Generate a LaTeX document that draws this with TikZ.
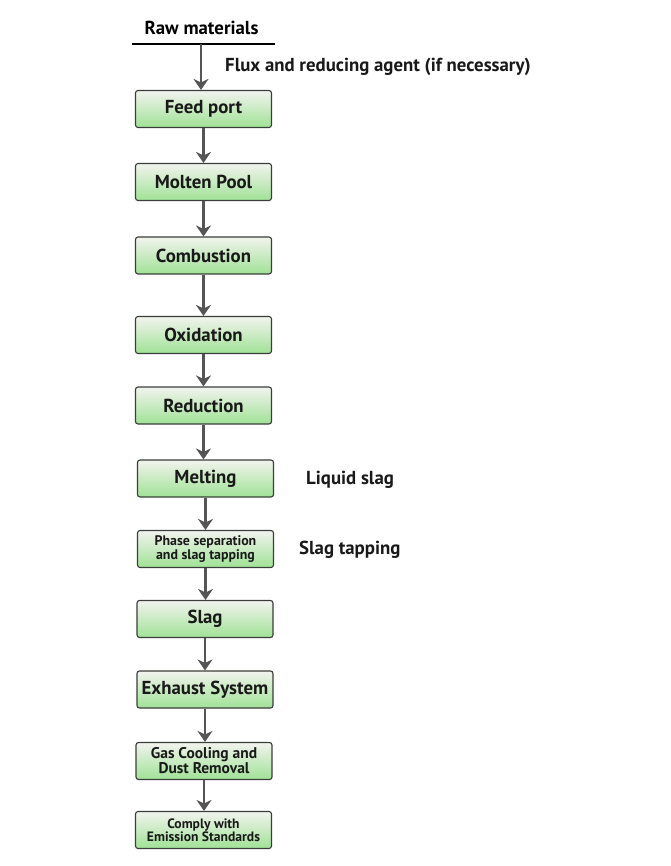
\documentclass[tikz,border=0pt]{standalone}
\usepackage{fontspec}
\setmainfont{PT Sans}
\usetikzlibrary{arrows.meta}
\definecolor{boxtop}{RGB}{242,243,238}
\definecolor{boxbot}{RGB}{160,226,150}
\definecolor{boxline}{RGB}{58,62,58}
\definecolor{arrowc}{RGB}{85,85,85}
\tikzset{
  x=1pt,y=1pt,
  procbox/.style={draw=boxline, line width=1.1pt, rounded corners=2.5pt,
    top color=boxtop, bottom color=boxbot, minimum width=136pt,
    minimum height=37pt, inner sep=0pt, align=center,
    font=\bfseries\fontsize{18.8}{20}\selectfont, text=black!90},
  smalltext/.style={font=\bfseries\fontsize{13.9}{15}\selectfont},
  midtext/.style={font=\bfseries\fontsize{15.5}{16}\selectfont},
  comptext/.style={font=\bfseries\fontsize{13.6}{14.5}\selectfont},
  flowarrow/.style={draw=arrowc, line width=2.6pt,
    -{Stealth[length=11pt,width=15pt,inset=3.5pt]}},
  sidelabel/.style={anchor=west, inner sep=0pt,
    font=\bfseries\fontsize{18.8}{20}\selectfont, text=black!90}
}
\begin{document}
\begin{tikzpicture}
\useasboundingbox[fill=white] (0,0) rectangle (670,-866);
% raw materials
\node[inner sep=0pt, font=\bfseries\fontsize{18.8}{20}\selectfont] (raw) at (201.5,-28) {Raw materials};
\coordinate (rawl) at (132,-44.5);
\coordinate (rawr) at (275,-44.5);
\coordinate (rawm) at (201,-44.5);
\draw[line width=2pt, black] (rawl) -- (rawr);
\node[sidelabel] (flux) at (225,-67) {Flux and reducing agent (if necessary)};
% boxes
\node[procbox] (feed)   at (203.5,-109)  {Feed port};
\node[procbox] (molten) at (203.5,-182)  {Molten Pool};
\node[procbox] (comb)   at (203.5,-255.5){Combustion};
\node[procbox] (oxid)   at (203.5,-335)  {Oxidation};
\node[procbox] (reduc)  at (203.5,-405.5){Reduction};
\node[procbox] (melt)   at (205.5,-478.5){Melting};
\node[procbox, smalltext] (phase) at (205.5,-549) {Phase separation\\[-1pt]and slag tapping};
\node[procbox] (slag)   at (205,-619)    {Slag};
\node[procbox] (exh)    at (205,-689.5)  {Exhaust System};
\node[procbox, midtext] (gas) at (204,-761) {Gas Cooling and\\[-1pt]Dust Removal};
\node[procbox, comptext] (comply) at (203.5,-830) {Comply with\\[-1pt]Emission Standards};
% side labels
\node[sidelabel] (liq) at (306,-480) {Liquid slag};
\node[sidelabel] (tap) at (299,-550) {Slag tapping};
% arrows
\draw[flowarrow] (rawm) -- (rawm |- feed.north);
\draw[flowarrow] (feed.south) -- (molten.north);
\draw[flowarrow] (molten.south) -- (comb.north);
\draw[flowarrow] (comb.south) -- (oxid.north);
\draw[flowarrow] (oxid.south) -- (reduc.north);
\draw[flowarrow] (reduc.south) -- (reduc.south |- melt.north);
\draw[flowarrow] (melt.south) -- (phase.north);
\draw[flowarrow] (phase.south) -- (phase.south |- slag.north);
\draw[flowarrow] (slag.south) -- (exh.north);
\draw[flowarrow] (exh.south) -- (exh.south |- gas.north);
\draw[flowarrow] (gas.south) -- (gas.south |- comply.north);
\end{tikzpicture}
\end{document}
